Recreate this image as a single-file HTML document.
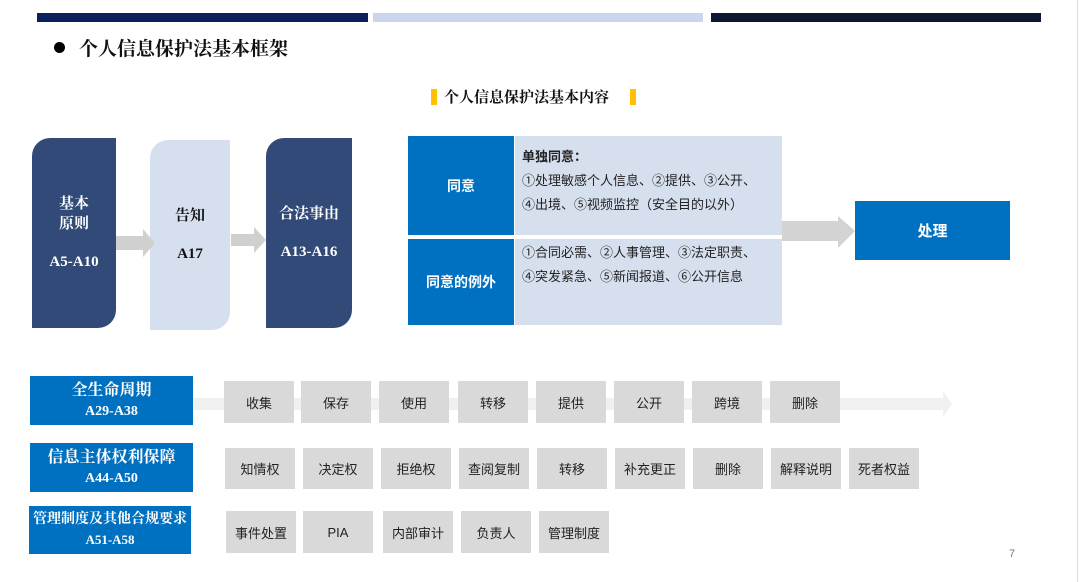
<!DOCTYPE html>
<html><head><meta charset="utf-8"><style>
*{margin:0;padding:0;box-sizing:border-box}
body{width:1080px;height:582px;background:#fff;position:relative;overflow:hidden;font-family:"Liberation Serif","Noto Serif CJK SC",serif}
.a{position:absolute}
.c{display:flex;align-items:center;justify-content:center;text-align:center}
.g{position:absolute;background:#d9d9d9;font-family:"Liberation Sans","Noto Sans CJK SC",sans-serif;font-size:13px;color:#222;display:flex;align-items:center;justify-content:center;width:70px}
.b{position:absolute;background:#0070c0;color:#fff;font-weight:bold;display:flex;flex-direction:column;align-items:center;justify-content:center;line-height:1.45}
.sans{font-family:"Liberation Sans","Noto Sans CJK SC",sans-serif}
</style></head><body>
<div class="a" style="left:37px;top:13px;width:331px;height:9px;background:#0a1f5c"></div>
<div class="a" style="left:373px;top:13px;width:330px;height:9px;background:#cbd5ee"></div>
<div class="a" style="left:711px;top:13px;width:330px;height:9px;background:#0b1733"></div>
<div class="a" style="left:1077px;top:0;width:1px;height:582px;background:#ddd"></div>
<div class="a" style="left:54px;top:42px;width:11px;height:11px;border-radius:50%;background:#000"></div>
<div class="a" style="left:79px;top:34px;font-size:19px;font-weight:bold;color:#111">个人信息保护法基本框架</div>
<div class="a" style="left:431px;top:89px;width:6px;height:16px;background:#ffc000"></div>
<div class="a" style="left:630px;top:89px;width:6px;height:16px;background:#ffc000"></div>
<div class="a" style="left:444px;top:86px;font-size:15px;font-weight:bold;color:#111">个人信息保护法基本内容</div>

<div class="a c" style="left:32px;top:138px;width:84px;height:190px;background:#314a77;border-radius:18px 0 18px 0;color:#fff;font-weight:bold;flex-direction:column;font-size:15px;line-height:20px"><div>基本<br>原则</div><div style="margin-top:18px">A5-A10</div></div>
<div class="a c" style="left:150px;top:140px;width:80px;height:190px;background:#d6dfee;border-radius:18px 0 18px 0;color:#111;font-weight:bold;flex-direction:column;font-size:15px;line-height:20px"><div>告知</div><div style="margin-top:18px">A17</div></div>
<div class="a c" style="left:266px;top:138px;width:86px;height:190px;background:#314a77;border-radius:18px 0 18px 0;color:#fff;font-weight:bold;flex-direction:column;font-size:15px;line-height:20px"><div>合法事由</div><div style="margin-top:18px">A13-A16</div></div>

<svg class="a" style="left:0;top:0;z-index:2" width="1080" height="582">
<polygon points="116,236 143,236 143,229 155,243 143,257 143,250 116,250" fill="#d0d0d0"/>
<polygon points="231,234 254,234 254,227 266,240 254,253 254,246 231,246" fill="#d0d0d0"/>
<polygon points="782,221 838,221 838,216 855,231 838,248 838,241 782,241" fill="#d3d3d3"/>
</svg>
<svg class="a" style="left:0;top:0" width="1080" height="582">
<polygon points="193,398 943,398 943,391 952,404 943,417 943,410 193,410" fill="#f0f0f0"/>
</svg>

<div class="a c sans" style="left:408px;top:136px;width:106px;height:99px;background:#0070c0;color:#fff;font-size:14px;font-weight:bold">同意</div>
<div class="a c sans" style="left:408px;top:239px;width:106px;height:86px;background:#0070c0;color:#fff;font-size:14px;font-weight:bold">同意的例外</div>
<div class="a sans" style="left:515px;top:136px;width:267px;height:99px;background:#d6dfee;padding:9px 0 0 7px;font-size:13px;color:#222;line-height:24px"><b>单独同意：</b><br>①处理敏感个人信息、②提供、③公开、<br>④出境、⑤视频监控（安全目的以外）</div>
<div class="a sans" style="left:515px;top:239px;width:267px;height:86px;background:#d6dfee;padding:2px 0 0 7px;font-size:13px;color:#222;line-height:24px">①合同必需、②人事管理、③法定职责、<br>④突发紧急、⑤新闻报道、⑥公开信息</div>
<div class="a c sans" style="left:855px;top:201px;width:155px;height:59px;background:#0070c0;color:#fff;font-size:15px;font-weight:bold">处理</div>

<div class="b" style="left:30px;top:376px;width:163px;height:49px;font-size:16px"><div>全生命周期</div><div style="font-size:14px">A29-A38</div></div>
<div class="b" style="left:30px;top:443px;width:163px;height:49px;font-size:16px"><div>信息主体权利保障</div><div style="font-size:14px">A44-A50</div></div>
<div class="b" style="left:29px;top:506px;width:162px;height:48px;font-size:14px"><div>管理制度及其他合规要求</div><div style="font-size:13px">A51-A58</div></div>

<div class="g" style="left:224px;top:381px;height:42px">收集</div>
<div class="g" style="left:301px;top:381px;height:42px">保存</div>
<div class="g" style="left:379px;top:381px;height:42px">使用</div>
<div class="g" style="left:458px;top:381px;height:42px">转移</div>
<div class="g" style="left:536px;top:381px;height:42px">提供</div>
<div class="g" style="left:614px;top:381px;height:42px">公开</div>
<div class="g" style="left:692px;top:381px;height:42px">跨境</div>
<div class="g" style="left:770px;top:381px;height:42px">删除</div>

<div class="g" style="left:225px;top:448px;height:41px">知情权</div>
<div class="g" style="left:303px;top:448px;height:41px">决定权</div>
<div class="g" style="left:381px;top:448px;height:41px">拒绝权</div>
<div class="g" style="left:459px;top:448px;height:41px">查阅复制</div>
<div class="g" style="left:537px;top:448px;height:41px">转移</div>
<div class="g" style="left:615px;top:448px;height:41px">补充更正</div>
<div class="g" style="left:693px;top:448px;height:41px">删除</div>
<div class="g" style="left:771px;top:448px;height:41px">解释说明</div>
<div class="g" style="left:849px;top:448px;height:41px">死者权益</div>

<div class="g" style="left:226px;top:511px;height:42px">事件处置</div>
<div class="g" style="left:303px;top:511px;height:42px">PIA</div>
<div class="g" style="left:383px;top:511px;height:42px">内部审计</div>
<div class="g" style="left:461px;top:511px;height:42px">负责人</div>
<div class="g" style="left:539px;top:511px;height:42px">管理制度</div>

<div class="a sans" style="left:1009px;top:548px;font-size:11px;color:#777">7</div>
</body></html>
